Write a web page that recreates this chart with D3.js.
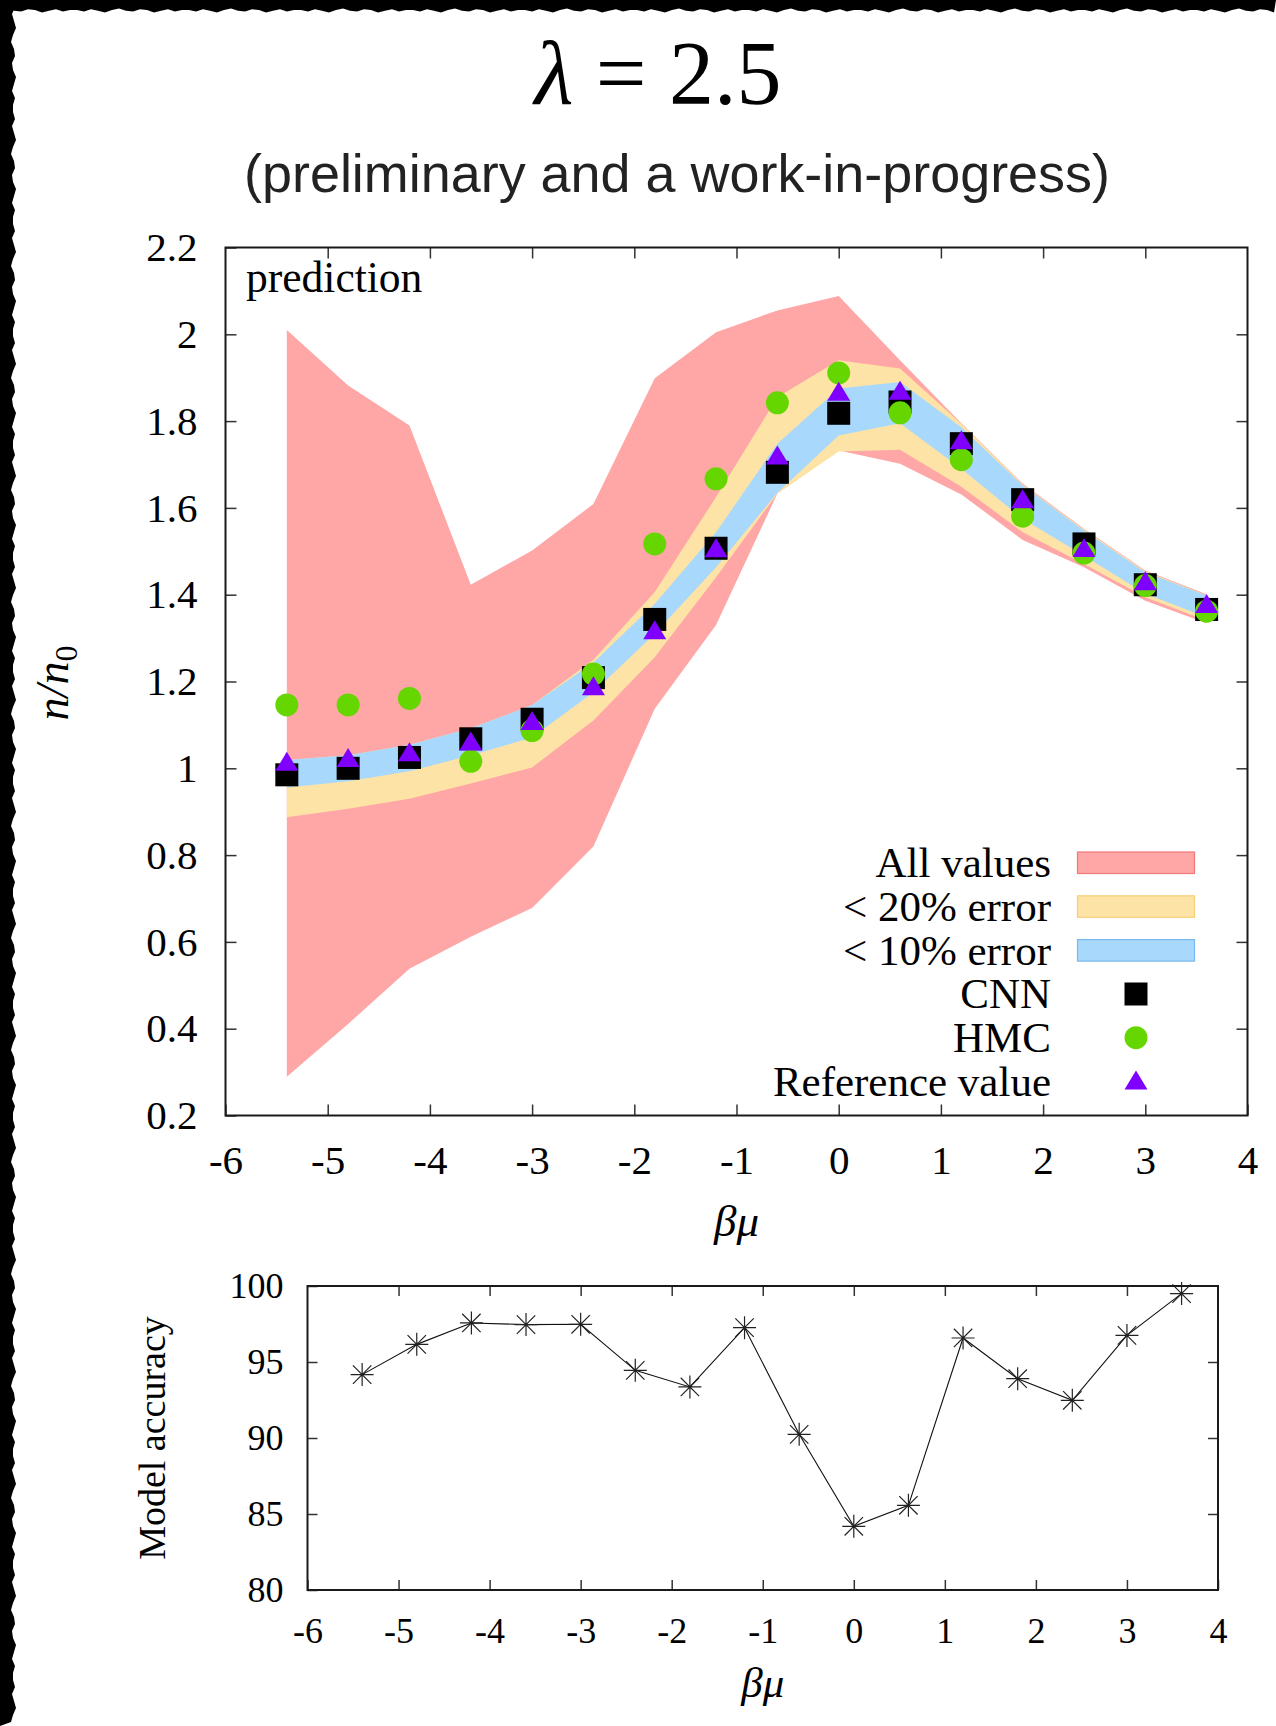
<!DOCTYPE html>
<html>
<head>
<meta charset="utf-8">
<script src="https://cdn.jsdelivr.net/npm/d3@7"></script>
<style>
  body { margin: 0; background: #fff; }
  svg { display: block; }
  .serif { font-family: "Liberation Serif", "Times New Roman", serif; }
</style>
</head>
<body>
<script>
// beta*mu sample points
const betaMu = [-5.4, -4.8, -4.2, -3.6, -3.0, -2.4, -1.8, -1.2, -0.6, 0, 0.6, 1.2, 1.8, 2.4, 3.0, 3.6];

// bands (n/n0)
const allUpper = [2.010, 1.882, 1.790, 1.423, 1.502, 1.609, 1.899, 2.005, 2.055, 2.088, 1.940, 1.795, 1.656, 1.552, 1.456, 1.401];
const allLower = [0.289, 0.411, 0.538, 0.612, 0.678, 0.820, 1.137, 1.330, 1.633, 1.732, 1.702, 1.631, 1.526, 1.463, 1.386, 1.334];
const err20Upper = [1.019, 1.030, 1.054, 1.092, 1.146, 1.250, 1.406, 1.625, 1.855, 1.940, 1.921, 1.794, 1.654, 1.550, 1.454, 1.399];
const err20Lower = [0.887, 0.907, 0.930, 0.965, 1.002, 1.110, 1.256, 1.440, 1.633, 1.730, 1.734, 1.649, 1.544, 1.471, 1.394, 1.340];
const err10Upper = [1.019, 1.030, 1.054, 1.092, 1.146, 1.244, 1.379, 1.544, 1.748, 1.875, 1.890, 1.786, 1.652, 1.548, 1.452, 1.398];
const err10Lower = [0.956, 0.970, 0.993, 1.030, 1.071, 1.175, 1.310, 1.463, 1.635, 1.767, 1.795, 1.690, 1.575, 1.490, 1.402, 1.348];

// point series
const cnn = [0.985, 1.000, 1.025, 1.068, 1.113, 1.209, 1.343, 1.507, 1.682, 1.818, 1.844, 1.748, 1.619, 1.517, 1.423, 1.366];
const hmc = [1.146, 1.146, 1.161, 1.016, 1.087, 1.217, 1.517, 1.667, 1.842, 1.911, 1.819, 1.711, 1.581, 1.496, 1.421, 1.362];
const reference = [1.016, 1.025, 1.038, 1.063, 1.110, 1.190, 1.319, 1.508, 1.722, 1.869, 1.871, 1.757, 1.621, 1.509, 1.432, 1.380];

// model accuracy (%)
const accuracy = [94.17, 96.16, 97.57, 97.46, 97.48, 94.45, 93.36, 97.26, 90.24, 84.19, 85.57, 96.58, 93.90, 92.48, 96.75, 99.50];

const xTicks = [-6, -5, -4, -3, -2, -1, 0, 1, 2, 3, 4];
const yTicks = [0.2, 0.4, 0.6, 0.8, 1, 1.2, 1.4, 1.6, 1.8, 2, 2.2];
const accTicks = [80, 85, 90, 95, 100];
const legendLabels = ['All values', '< 20% error', '< 10% error', 'CNN', 'HMC', 'Reference value'];

const colors = {
  all: '#ffa6a6', allEdge: '#f07878',
  e20: '#fee3a6', e20Edge: '#f7cf78',
  e10: '#a8d8fb', e10Edge: '#78b8ee',
  hmc: '#66d600', ref: '#8000ff', frame: '#1a1a1a'
};
const SERIF = '"Liberation Serif", "Times New Roman", serif';

const W = 1276, H = 1726;
const svg = d3.select('body').append('svg')
  .attr('width', W).attr('height', H);

svg.append('rect').attr('width', W).attr('height', H).attr('fill', '#fff');

// torn black edges (left + top)
const jag = [0, 2, -1, 1, 3, 0, -2, 1, 2, -1, 0, 3, 1, -1, 2, 0];
let leftPts = [[0, 0], [13, 0]];
for (let i = 0, yy = 0; yy <= H; i++, yy += 7) leftPts.push([13 + jag[i % jag.length], yy]);
leftPts.push([0, H]);
svg.append('path').attr('d', d3.line()(leftPts) + 'Z').attr('fill', '#000');
let topPts = [[0, 0], [0, 10]];
for (let i = 0, xx = 0; xx <= W; i++, xx += 7) topPts.push([xx, 10 + jag[(i + 5) % jag.length] * 0.8]);
topPts.push([W, 0]);
svg.append('path').attr('d', d3.line()(topPts) + 'Z').attr('fill', '#000');

// titles
svg.append('text')
  .attr('x', 658).attr('y', 104).attr('text-anchor', 'middle')
  .attr('font-family', SERIF).attr('font-size', 90)
  .html('<tspan font-style="italic">λ</tspan> = 2.5');

svg.append('text')
  .attr('x', 677).attr('y', 192).attr('text-anchor', 'middle')
  .attr('font-family', '"Liberation Sans", Arial, sans-serif')
  .attr('font-size', 54).attr('fill', '#222')
  .attr('textLength', 866).attr('lengthAdjust', 'spacingAndGlyphs')
  .text('(preliminary and a work-in-progress)');

// ---------- main plot ----------
const x = d3.scaleLinear().domain([-6, 4]).range([225.5, 1247.5]);
const y = d3.scaleLinear().domain([0.2, 2.2]).range([1115.5, 247.5]);

const band = (up, lo) => d3.area()
  .x((d, i) => x(betaMu[i]))
  .y0((d, i) => y(lo[i]))
  .y1((d, i) => y(up[i]));

const main = svg.append('g');
main.append('path').datum(betaMu).attr('d', band(allUpper, allLower)).attr('fill', colors.all);
main.append('path').datum(betaMu).attr('d', band(err20Upper, err20Lower)).attr('fill', colors.e20);
main.append('path').datum(betaMu).attr('d', band(err10Upper, err10Lower)).attr('fill', colors.e10);

const sq = 23;
main.append('g').selectAll('rect').data(cnn).join('rect')
  .attr('x', (d, i) => x(betaMu[i]) - sq / 2)
  .attr('y', d => y(d) - sq / 2)
  .attr('width', sq).attr('height', sq).attr('fill', '#000');

main.append('g').selectAll('circle').data(hmc).join('circle')
  .attr('cx', (d, i) => x(betaMu[i]))
  .attr('cy', d => y(d))
  .attr('r', 11.5).attr('fill', colors.hmc);

const tri = (cx, cy) => `M${cx},${cy - 9.5}L${cx + 11.5},${cy + 9.5}L${cx - 11.5},${cy + 9.5}Z`;
main.append('g').selectAll('path').data(reference).join('path')
  .attr('d', (d, i) => tri(x(betaMu[i]), y(d)))
  .attr('fill', colors.ref);

// axes with inward ticks
const fmt = d => String(Math.round(d * 10) / 10);
const styleAxis = (g, fs) => {
  g.select('.domain').remove();
  g.selectAll('.tick line').attr('stroke', '#333').attr('stroke-width', 1.5);
  g.selectAll('.tick text').attr('font-family', SERIF).attr('font-size', fs).attr('fill', '#000');
};

main.append('g').attr('transform', 'translate(0,1115.5)')
  .call(d3.axisBottom(x).tickValues(xTicks).tickFormat(fmt).tickSizeInner(-11).tickSizeOuter(0).tickPadding(29))
  .call(g => styleAxis(g, 41));
main.append('g').attr('transform', 'translate(0,247.5)')
  .call(d3.axisTop(x).tickValues(xTicks.slice(1, -1)).tickFormat('').tickSizeInner(-11).tickSizeOuter(0))
  .call(g => styleAxis(g, 41));
main.append('g').attr('transform', 'translate(225.5,0)')
  .call(d3.axisLeft(y).tickValues(yTicks).tickFormat(fmt).tickSizeInner(-11).tickSizeOuter(0).tickPadding(28))
  .call(g => styleAxis(g, 41));
main.append('g').attr('transform', 'translate(1247.5,0)')
  .call(d3.axisRight(y).tickValues(yTicks.slice(1, -1)).tickFormat('').tickSizeInner(-11).tickSizeOuter(0))
  .call(g => styleAxis(g, 41));

main.append('rect').attr('x', 225.5).attr('y', 247.5)
  .attr('width', 1022).attr('height', 868)
  .attr('fill', 'none').attr('stroke', colors.frame).attr('stroke-width', 2);

main.append('text').attr('font-family', SERIF).attr('x', 246).attr('y', 292)
  .attr('font-size', 43.5).text('prediction');

svg.append('text').attr('font-family', SERIF)
  .attr('x', 736.5).attr('y', 1236).attr('text-anchor', 'middle')
  .attr('font-size', 45).attr('font-style', 'italic').text('βμ');

svg.append('text').attr('font-family', SERIF)
  .attr('transform', 'translate(68,683) rotate(-90)')
  .attr('text-anchor', 'middle').attr('font-size', 46).attr('font-style', 'italic')
  .html('n/n<tspan font-style="normal" font-size="32" dy="9">0</tspan>');

// legend
const leg = main.append('g');
legendLabels.forEach((lab, i) => {
  const by = 877 + i * 43.8;
  leg.append('text').attr('font-family', SERIF).attr('x', 1051).attr('y', by)
    .attr('text-anchor', 'end').attr('font-size', 43).text(lab);
});
[[colors.all, colors.allEdge], [colors.e20, colors.e20Edge], [colors.e10, colors.e10Edge]].forEach((c, i) => {
  leg.append('rect').attr('x', 1077.5).attr('y', 877 + i * 43.8 - 25)
    .attr('width', 117).attr('height', 21.5)
    .attr('fill', c[0]).attr('stroke', c[1]).attr('stroke-width', 1.2);
});
leg.append('rect').attr('x', 1136 - sq / 2).attr('y', 994 - sq / 2)
  .attr('width', sq).attr('height', sq).attr('fill', '#000');
leg.append('circle').attr('cx', 1136).attr('cy', 1037.7).attr('r', 11.5).attr('fill', colors.hmc);
leg.append('path').attr('d', tri(1136, 1080)).attr('fill', colors.ref);

// ---------- accuracy plot ----------
const xb = d3.scaleLinear().domain([-6, 4]).range([307.5, 1218]);
const yb = d3.scaleLinear().domain([80, 100]).range([1590, 1286]);
const acc = svg.append('g');

acc.append('g').attr('transform', 'translate(0,1590)')
  .call(d3.axisBottom(xb).tickValues(xTicks).tickFormat(fmt).tickSizeInner(-10).tickSizeOuter(0).tickPadding(27))
  .call(g => styleAxis(g, 36));
acc.append('g').attr('transform', 'translate(0,1286)')
  .call(d3.axisTop(xb).tickValues(xTicks.slice(1, -1)).tickFormat('').tickSizeInner(-10).tickSizeOuter(0))
  .call(g => styleAxis(g, 36));
acc.append('g').attr('transform', 'translate(307.5,0)')
  .call(d3.axisLeft(yb).tickValues(accTicks).tickFormat(fmt).tickSizeInner(-10).tickSizeOuter(0).tickPadding(24))
  .call(g => styleAxis(g, 36));
acc.append('g').attr('transform', 'translate(1218,0)')
  .call(d3.axisRight(yb).tickValues(accTicks.slice(1, -1)).tickFormat('').tickSizeInner(-10).tickSizeOuter(0))
  .call(g => styleAxis(g, 36));

acc.append('path').datum(accuracy)
  .attr('d', d3.line().x((d, i) => xb(betaMu[i])).y(d => yb(d)))
  .attr('fill', 'none').attr('stroke', '#111').attr('stroke-width', 1.1);

const star = (cx, cy) => {
  const r = 11.5, q = r * 0.8;
  return `M${cx - r},${cy}H${cx + r}M${cx},${cy - r}V${cy + r}` +
    `M${cx - q},${cy - q}L${cx + q},${cy + q}M${cx - q},${cy + q}L${cx + q},${cy - q}`;
};
acc.append('g').selectAll('path').data(accuracy).join('path')
  .attr('d', (d, i) => star(xb(betaMu[i]), yb(d)))
  .attr('fill', 'none').attr('stroke', '#222').attr('stroke-width', 1.2);

acc.append('rect').attr('x', 307.5).attr('y', 1286)
  .attr('width', 910.5).attr('height', 304)
  .attr('fill', 'none').attr('stroke', colors.frame).attr('stroke-width', 2);

svg.append('text').attr('font-family', SERIF)
  .attr('x', 762.75).attr('y', 1697).attr('text-anchor', 'middle')
  .attr('font-size', 43).attr('font-style', 'italic').text('βμ');

svg.append('text').attr('font-family', SERIF)
  .attr('transform', 'translate(165,1438) rotate(-90)')
  .attr('text-anchor', 'middle').attr('font-size', 38).text('Model accuracy');
</script>
</body>
</html>
